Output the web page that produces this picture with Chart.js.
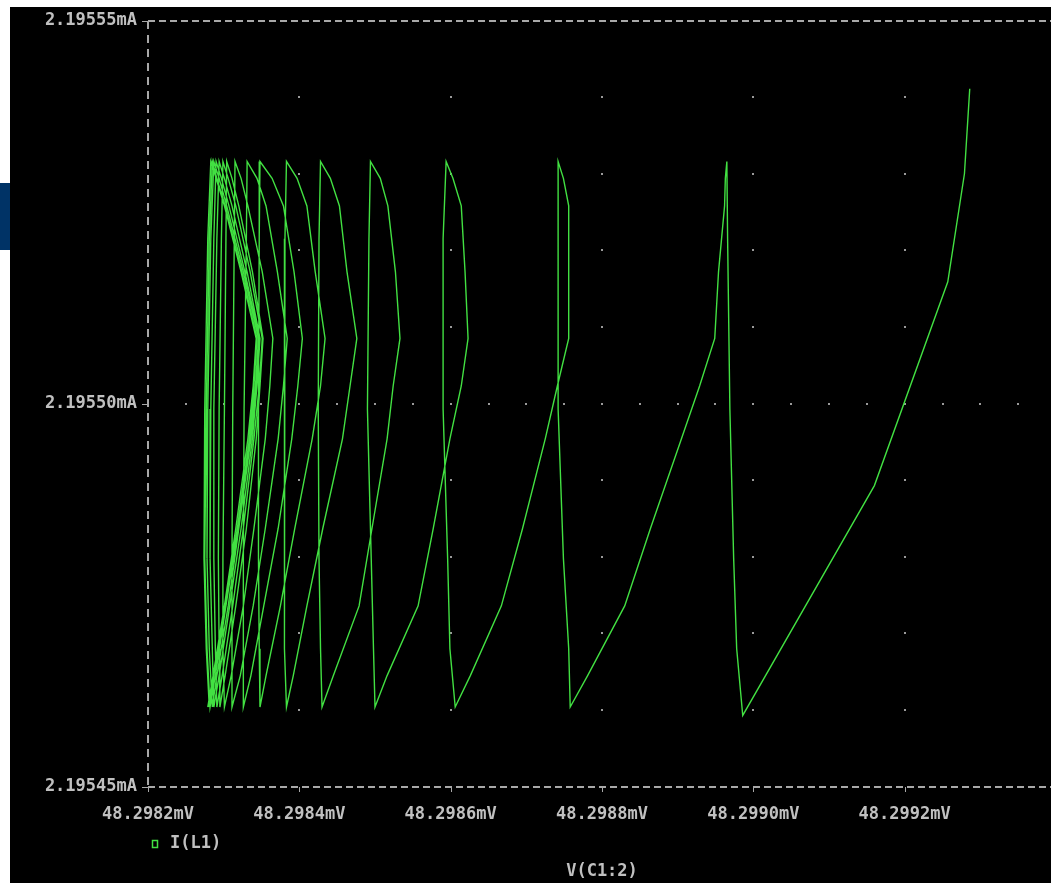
<!DOCTYPE html>
<html>
<head>
<meta charset="utf-8">
<script src="https://cdn.jsdelivr.net/npm/chart.js@4"></script>
<style>
  html, body { margin: 0; padding: 0; background: #fff; overflow: hidden; }
  #tab { position: absolute; left: 0; top: 183px; width: 10px; height: 67px; background: #003366; }
  #scope { position: absolute; left: 10px; top: 7px; width: 1051px; height: 876px; background: #000; }
</style>
</head>
<body>
<div id="tab"></div>
<div id="scope"><canvas id="plot" width="1051" height="876"></canvas></div>
<script>
// axis ticks
const xTicks = [48.2982, 48.2984, 48.2986, 48.2988, 48.2990, 48.2992];
const yTicks = [2.19545, 2.19550, 2.19555];
// dotted grid: rows at the x ticks, one extra dotted row along 2.19550mA
const dotRowsI = [2.19546, 2.19547, 2.19548, 2.19549, 2.19551, 2.19552, 2.19553, 2.19554];
const dotColsV = [48.29825, 48.29830, 48.29835, 48.29840, 48.29845, 48.29850, 48.29855, 48.29860,
  48.29865, 48.29870, 48.29875, 48.29880, 48.29885, 48.29890, 48.29895, 48.29900, 48.29905,
  48.29910, 48.29915, 48.29920, 48.29925, 48.29930, 48.29935];

// I(L1) levels sampled on each rising stroke (bottom -> top) and falling stroke (top -> bottom)
const riseI = [2.1954645, 2.1954736, 2.1954837, 2.1954954, 2.1955023, 2.1955085, 2.1955172, 2.1955258, 2.1955294, 2.1955316];
const fallI = [2.1955215, 2.1954993, 2.1954798, 2.1954680, 2.1954604];

const startV = 48.298279;
const startI = 2.1954604;
const riseV = [
  [48.298286, 48.298301, 48.298316, 48.298332, 48.298339, 48.298343, 48.298323, 48.298301, 48.298290, 48.298283],
  [48.298287, 48.298302, 48.298318, 48.298334, 48.298340, 48.298344, 48.298324, 48.298302, 48.298291, 48.298285],
  [48.298289, 48.298303, 48.298319, 48.298335, 48.298342, 48.298346, 48.298326, 48.298304, 48.298294, 48.298287],
  [48.298291, 48.298306, 48.298320, 48.298336, 48.298343, 48.298347, 48.298328, 48.298307, 48.298297, 48.298290],
  [48.298294, 48.298308, 48.298323, 48.298338, 48.298344, 48.298348, 48.298331, 48.298311, 48.298301, 48.298294],
  [48.298298, 48.298312, 48.298326, 48.298340, 48.298347, 48.298351, 48.298335, 48.298316, 48.298306, 48.298299],
  [48.298302, 48.298316, 48.298330, 48.298343, 48.298348, 48.298352, 48.298338, 48.298320, 48.298311, 48.298304],
  [48.298310, 48.298326, 48.298340, 48.298355, 48.298361, 48.298365, 48.298351, 48.298332, 48.298323, 48.298315],
  [48.298322, 48.298339, 48.298355, 48.298372, 48.298379, 48.298384, 48.298371, 48.298356, 48.298344, 48.298331],
  [48.298336, 48.298353, 48.298372, 48.298390, 48.298398, 48.298404, 48.298393, 48.298379, 48.298364, 48.298348],
  [48.298356, 48.298375, 48.298394, 48.298417, 48.298428, 48.298434, 48.298421, 48.298410, 48.298397, 48.298383],
  [48.298392, 48.298410, 48.298431, 48.298457, 48.298467, 48.298476, 48.298463, 48.298453, 48.298441, 48.298428],
  [48.298445, 48.298479, 48.298496, 48.298516, 48.298524, 48.298533, 48.298527, 48.298517, 48.298507, 48.298494],
  [48.298516, 48.298557, 48.298577, 48.298599, 48.298614, 48.298623, 48.298619, 48.298614, 48.298603, 48.298594],
  [48.298626, 48.298667, 48.298695, 48.298725, 48.298741, 48.298756, 48.298756, 48.298756, 48.298749, 48.298742],
  [48.298781, 48.298830, 48.298864, 48.298905, 48.298929, 48.298949, 48.298954, 48.298962, 48.298963, 48.298965]
];
const fallV = [
  [48.298279, 48.298275, 48.298274, 48.298277, 48.298281],
  [48.298281, 48.298277, 48.298275, 48.298278, 48.298282],
  [48.298283, 48.298279, 48.298278, 48.298281, 48.298285],
  [48.298287, 48.298283, 48.298282, 48.298285, 48.298287],
  [48.298291, 48.298287, 48.298287, 48.298289, 48.298291],
  [48.298297, 48.298294, 48.298293, 48.298294, 48.298295],
  [48.298303, 48.298301, 48.298299, 48.298299, 48.298301],
  [48.298314, 48.298312, 48.298311, 48.298311, 48.298311],
  [48.298330, 48.298327, 48.298326, 48.298326, 48.298326],
  [48.298347, 48.298346, 48.298346, 48.298347, 48.298348],
  [48.298381, 48.298380, 48.298380, 48.298381, 48.298383],
  [48.298426, 48.298425, 48.298426, 48.298428, 48.298430],
  [48.298492, 48.298490, 48.298495, 48.298498, 48.298500],
  [48.298590, 48.298590, 48.298596, 48.298599, 48.298606],
  [48.298742, 48.298742, 48.298749, 48.298756, 48.298758]
];
// last fall and the final swing up to the right
const tailV = [48.298966, 48.298969, 48.298974, 48.298978, 48.298986, 48.299160, 48.299257, 48.299279, 48.299286];
const tailI = [2.1955215, 2.1954993, 2.1954798, 2.1954680, 2.1954593, 2.1954893, 2.1955159, 2.1955300, 2.1955411];

const GREEN = '#42e042';
const AXIS = '#a8a8a8';
const TEXT = '#c0c0c0';
const FONT = { family: 'DejaVu Sans Mono', size: 17, weight: 'bold' };

const points = [{ x: startV, y: startI }];
riseV.forEach((row, k) => {
  row.forEach((v, j) => points.push({ x: v, y: riseI[j] }));
  if (fallV[k]) fallV[k].forEach((v, j) => points.push({ x: v, y: fallI[j] }));
});
tailV.forEach((v, j) => points.push({ x: v, y: tailI[j] }));

// probe-style frame, tick marks, grid dots and legend
const probeFrame = {
  id: 'probeFrame',
  beforeDatasetsDraw(chart) {
    const { ctx, chartArea: a, scales: { x, y } } = chart;
    ctx.save();
    ctx.fillStyle = '#9a9a9a';
    xTicks.slice(1).forEach((v) => {
      const px = Math.round(x.getPixelForValue(v));
      dotRowsI.forEach((i) => ctx.fillRect(px - 1, Math.round(y.getPixelForValue(i)) - 1, 2, 2));
    });
    const midY = Math.round(y.getPixelForValue(2.19550));
    dotColsV.forEach((v) => ctx.fillRect(Math.round(x.getPixelForValue(v)) - 1, midY - 1, 2, 2));

    ctx.strokeStyle = AXIS;
    ctx.lineWidth = 2;
    const L = Math.round(a.left), T = Math.round(a.top), B = Math.round(a.bottom);
    ctx.setLineDash([7, 4]);
    ctx.beginPath();
    ctx.moveTo(L, T); ctx.lineTo(a.right + 10, T);
    ctx.moveTo(L, B); ctx.lineTo(a.right + 10, B);
    ctx.stroke();
    ctx.setLineDash([8, 6]);
    ctx.beginPath();
    ctx.moveTo(L, T); ctx.lineTo(L, B);
    ctx.stroke();
    ctx.setLineDash([]);
    ctx.lineWidth = 1;
    ctx.beginPath();
    yTicks.forEach((v) => {
      const py = Math.round(y.getPixelForValue(v)) + 0.5;
      ctx.moveTo(L - 6, py); ctx.lineTo(L, py);
    });
    xTicks.forEach((v) => {
      const px = Math.round(x.getPixelForValue(v)) + 0.5;
      ctx.moveTo(px, B); ctx.lineTo(px, B + 5);
    });
    ctx.stroke();
    ctx.restore();
  },
  afterDraw(chart) {
    const { ctx } = chart;
    ctx.save();
    ctx.strokeStyle = GREEN;
    ctx.lineWidth = 1.5;
    ctx.strokeRect(142.5, 833.5, 5, 7);
    ctx.fillStyle = TEXT;
    ctx.font = 'bold 17px "DejaVu Sans Mono"';
    ctx.textBaseline = 'middle';
    ctx.fillText('I(L1)', 160, 837);
    ctx.restore();
  },
};

new Chart(document.getElementById('plot'), {
  type: 'scatter',
  data: {
    datasets: [{
      label: 'I(L1)',
      data: points,
      showLine: true,
      borderColor: GREEN,
      borderWidth: 1.4,
      pointRadius: 0,
      tension: 0,
    }],
  },
  options: {
    responsive: false,
    animation: false,
    events: [],
    layout: { padding: { top: 13.5, right: 5, left: 0, bottom: 0 } },
    plugins: { legend: { display: false }, tooltip: { enabled: false } },
    scales: {
      x: {
        type: 'linear',
        min: 48.2982,
        max: 48.2994,
        afterBuildTicks: (s) => { s.ticks = xTicks.map((v) => ({ value: v })); },
        afterFit: (s) => { s.height = 96.3; s.paddingLeft = 0; s.paddingRight = 0; },
        grid: { display: false, drawTicks: false },
        border: { display: false },
        ticks: {
          autoSkip: false,
          maxRotation: 0,
          padding: 18,
          color: TEXT,
          font: FONT,
          callback: (v) => v.toFixed(4) + 'mV',
        },
        title: { display: true, text: 'V(C1:2)', color: TEXT, font: FONT, padding: { top: 0, bottom: 1 } },
      },
      y: {
        min: 2.19545,
        max: 2.19555,
        afterBuildTicks: (s) => { s.ticks = yTicks.map((v) => ({ value: v })); },
        afterFit: (s) => { s.width = 138; s.paddingTop = 0; s.paddingBottom = 0; },
        grid: { display: false, drawTicks: false },
        border: { display: false },
        ticks: {
          padding: 11,
          color: TEXT,
          font: FONT,
          callback: (v) => v.toFixed(5) + 'mA',
        },
      },
    },
  },
  plugins: [probeFrame],
});
</script>
</body>
</html>
